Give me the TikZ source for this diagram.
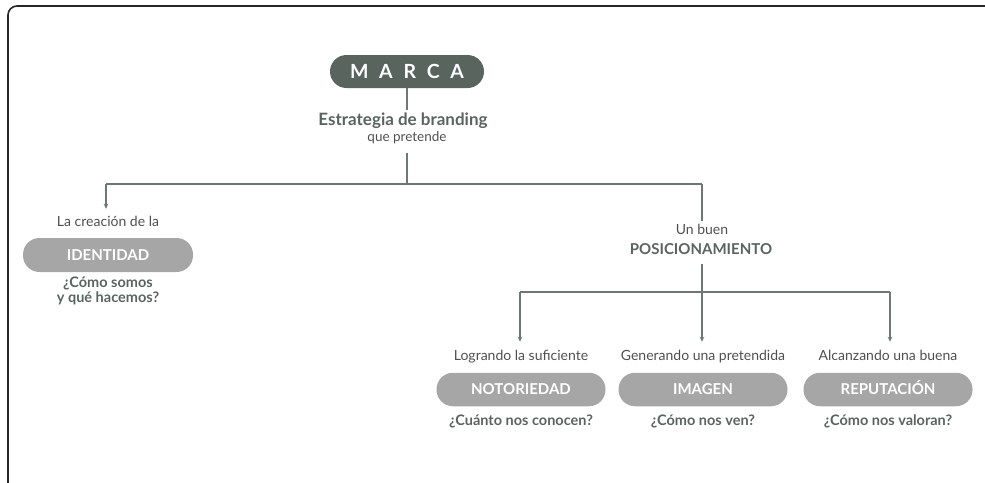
\documentclass[tikz,border=0pt]{standalone}
\usepackage{fontspec}
\setmainfont{Lato}
\usetikzlibrary{arrows.meta}

\definecolor{marcagreen}{HTML}{5A645F}
\definecolor{pillgrey}{HTML}{A6A6A6}
\definecolor{linegrey}{HTML}{6E7872}
\definecolor{textgrey}{HTML}{4F4F4F}

\tikzset{
  pill/.style={fill=pillgrey, rounded corners=16.5pt, minimum width=169pt,
    minimum height=33.5pt, text=white, font=\fontsize{15}{16}\selectfont\bfseries,
    text height=10.8pt, text depth=0.6pt},
  caption/.style={text=textgrey, font=\fontsize{14}{15}\selectfont,
    text height=10.4pt, text depth=3pt},
  question/.style={text=marcagreen, align=center,
    font=\fontsize{14.5}{12.5}\selectfont\bfseries},
  link/.style={draw=linegrey, line width=1.3pt},
  arrowlink/.style={link, -{Stealth[length=5pt,width=4.5pt]}},
}

\begin{document}
\begin{tikzpicture}[x=1pt,y=-1pt]
  \useasboundingbox (0,0) rectangle (985,482);
  % frame, cut at the right and bottom
  \begin{scope}
    \clip (0,0) rectangle (985,482);
    \draw [line width=1.6pt, draw=black!85, rounded corners=9pt] (8,6) rectangle (1000,500);
  \end{scope}

  % top
  \node [fill=marcagreen, rounded corners=16.5pt, minimum width=154pt, minimum height=33pt,
    text=white, font=\fontsize{19.5}{20}\selectfont\bfseries]
    (marca) at (407,71.5) {M\hspace{.55em}A\hspace{.55em}R\hspace{.55em}C\hspace{.55em}A};
  \node [text=marcagreen, font=\fontsize{17}{18}\selectfont\bfseries] (estrategia) at (403,121) {Estrategia de branding};
  \node [text=textgrey, font=\fontsize{13.5}{14}\selectfont] (pretende) at (407,138) {que pretende};

  \coordinate (split) at (407,184);
  \coordinate (left) at (106,184);
  \coordinate (right) at (702,184);

  \draw [link] (marca.south) -- (marca.south |- estrategia.north);
  \draw [link, shorten <=5pt] (pretende.south) -- (split);
  \draw [link] (left) -- (right);

  % identidad
  \node [caption] (creacion) at (108,223) {La creación de la};
  \node [pill, minimum width=170pt, minimum height=34pt] (identidad) at (108,255) {IDENTIDAD};
  \node [question] (somos) at (108,291) {¿Cómo somos\\y qué hacemos?};
  \draw [arrowlink, shorten >=4pt] (left) -- (left |- creacion.north);

  % posicionamiento
  \node [caption] (unbuen) at (702,231) {Un buen};
  \node [text=marcagreen, font=\fontsize{15}{16}\selectfont\bfseries] (posicionamiento) at (701,249) {POSICIONAMIENTO};
  \draw [link] (right) -- (unbuen.north);

  \coordinate (fork) at (702,292);
  \coordinate (forkl) at (520,292);
  \coordinate (forkr) at (890,292);
  \draw [link, shorten <=6pt] (posicionamiento.south -| fork) -- (fork);
  \draw [link] (forkl) -- (forkr);

  \foreach \name/\x/\lead/\word/\ask in {
      noto/521/Logrando la suficiente/NOTORIEDAD/¿Cuánto nos conocen?,
      imagen/703/Generando una pretendida/IMAGEN/¿Cómo nos ven?,
      repu/888/Alcanzando una buena/REPUTACIÓN/¿Cómo nos valoran?}
  {
    \node [caption] (\name-lead) at (\x,357) {\lead};
    \node [pill] (\name) at (\x,389.5) {\word};
    \node [question] (\name-ask) at (\x,421) {\ask};
  }
  \draw [arrowlink, shorten >=5pt] (forkl) -- (forkl |- noto-lead.north);
  \draw [arrowlink, shorten >=5pt] (fork) -- (fork |- imagen-lead.north);
  \draw [arrowlink, shorten >=5pt] (forkr) -- (forkr |- repu-lead.north);
\end{tikzpicture}
\end{document}
